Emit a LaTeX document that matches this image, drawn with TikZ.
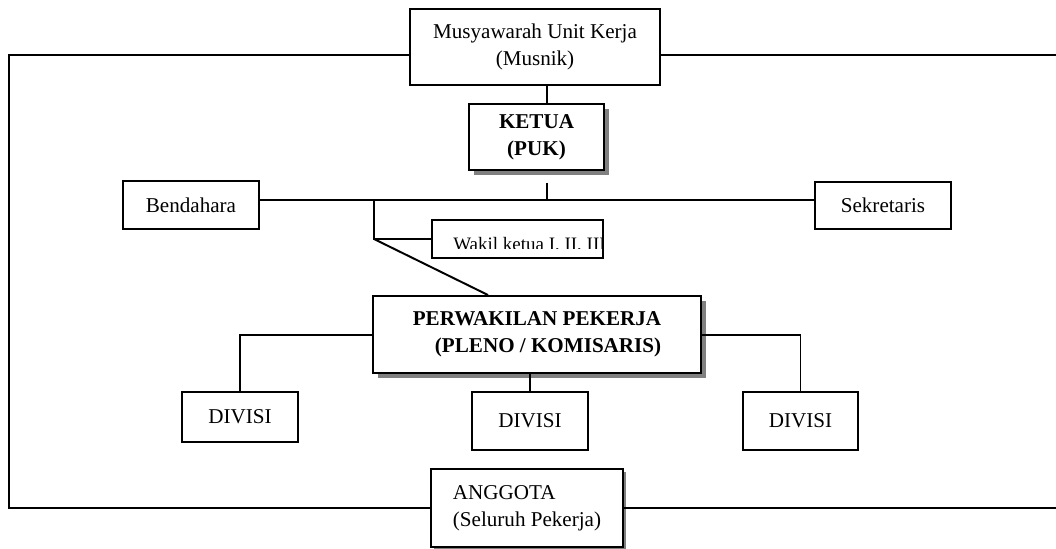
\documentclass[tikz,border=0pt]{standalone}
\usepackage{fontspec}
\setmainfont{Liberation Serif}
\usetikzlibrary{calc,shadows}
\tikzstyle{box}=[rectangle,fill=white,inner sep=0pt, line width=1.4pt, draw=black, anchor = center, align=center, font=\fontsize{15}{19}\selectfont]
\tikzstyle{shadebox}=[box, drop shadow={shadow xshift=0.13cm, shadow yshift=-0.13cm, fill=black!50, opacity=1}]
\tikzstyle{annot} = [inner sep=0pt, font=\fontsize{13.5}{17}\selectfont]
\tikzstyle{link} = [line width=1.4pt]

\begin{document}
\begin{tikzpicture}[x=0.025cm, y=-0.025cm]
	\useasboundingbox (0,0) rectangle (1056,548);

	\coordinate (spine) at (547,200);
	\coordinate (fork) at (374,239);
	\coordinate (top) at (9,55);
	\coordinate (rim) at (1056,55);

	\node[box, minimum width=250*0.025cm, minimum height=76*0.025cm](musnik) at (535,47){Musyawarah Unit Kerja\\(Musnik)};
	\node[shadebox, minimum width=135*0.025cm, minimum height=66*0.025cm, font=\fontsize{15}{19}\selectfont\bfseries](ketua) at (536.5,137){KETUA\\(PUK)};
	\node[box, minimum width=136*0.025cm, minimum height=48*0.025cm](bendahara) at (191,205){Bendahara};
	\node[box, minimum width=136*0.025cm, minimum height=47*0.025cm](sekretaris) at (883,205.5){Sekretaris};
	\node[box, minimum width=171*0.025cm, minimum height=38*0.025cm](wakil) at (517.5,239){};
	\node[shadebox, minimum width=328*0.025cm, minimum height=77*0.025cm, align=right, font=\fontsize{15}{19}\selectfont\bfseries](pleno) at (537,334.5){PERWAKILAN PEKERJA\\(PLENO / KOMISARIS)};
	\node[box, minimum width=116*0.025cm, minimum height=50*0.025cm](divisi1) at (240,417){DIVISI};
	\node[box, minimum width=116*0.025cm, minimum height=58*0.025cm](divisi2) at (530,421){DIVISI};
	\node[box, minimum width=115*0.025cm, minimum height=58*0.025cm](divisi3) at (800.5,421){DIVISI};
	\node[box, minimum width=192*0.025cm, minimum height=78*0.025cm, align=left, drop shadow={shadow xshift=0.08cm, shadow yshift=-0.08cm, fill=black!50, opacity=1}](anggota) at (527,508){ANGGOTA\\(Seluruh Pekerja)};

	% text of the wakil box is cut off at the bottom
	\begin{scope}
		\clip (433,221) rectangle (602,248);
		\node[annot, anchor=base west](wakiltext) at (453,250.5){Wakil ketua I, II, III};
	\end{scope}

	% outer frame
	\draw[link] (musnik.west |- top) -- (top) -- (top |- anggota.west) -- (anggota.west);
	\draw[link] (musnik.east |- rim) -- (rim);
	\draw[link] (anggota.east) -- (anggota.east -| rim);

	% top chain
	\draw[link] (musnik.south -| spine) -- (ketua.north -| spine);
	\draw[link] ([yshift=-0.3cm]ketua.south -| spine) -- (spine);
	\draw[link] (bendahara.east |- spine) -- (sekretaris.west |- spine);
	\draw[link] (fork |- spine) -- (fork) -- (wakil.west |- fork);
	\draw[link] (fork) -- (pleno.north -| 488,0);

	% divisions
	\draw[link] (pleno.west |- 0,335) -- (divisi1.north |- 0,335) -- (divisi1.north);
	\draw[link] (pleno.east |- 0,335) -- (divisi3.north |- 0,335) -- (divisi3.north);
	\draw[link] (pleno.south -| divisi2.north) -- (divisi2.north);

\end{tikzpicture}
\end{document}
